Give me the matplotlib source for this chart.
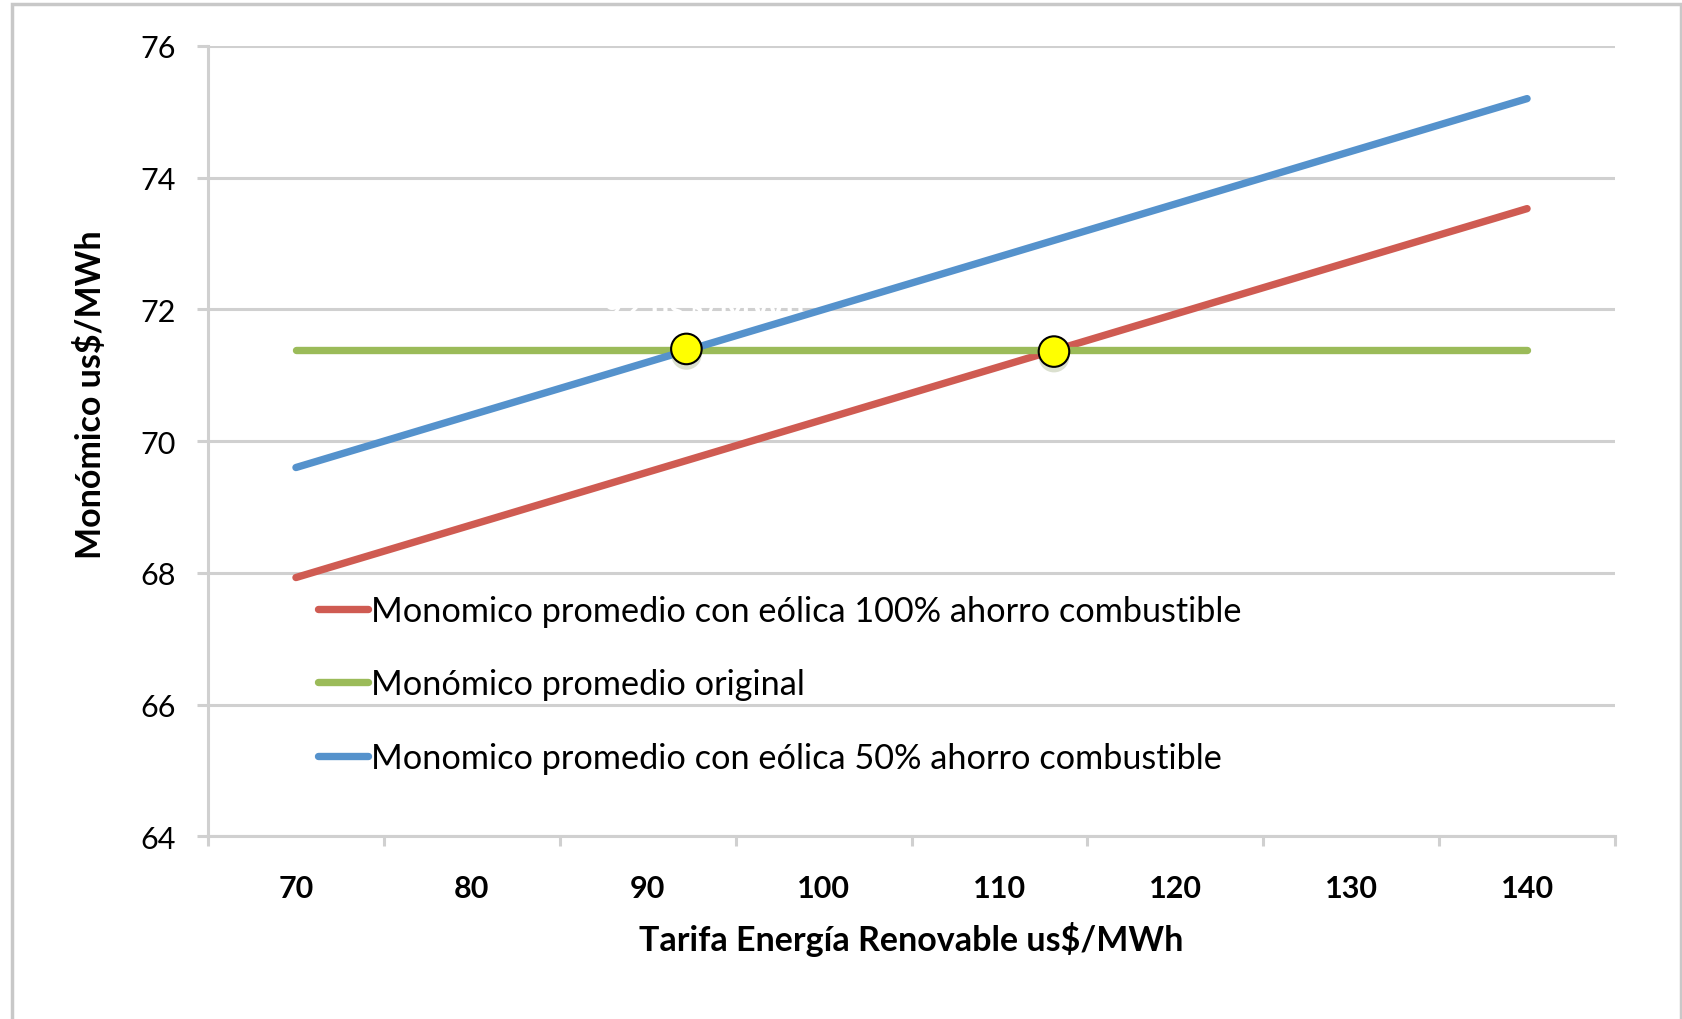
import matplotlib
matplotlib.use("Agg")
import matplotlib.pyplot as plt
import matplotlib.patheffects as pe
from matplotlib.patches import Rectangle

plt.rcParams['font.family'] = ['Lato', 'DejaVu Sans']

# Datos
tarifa = [70, 80, 90, 100, 110, 120, 130, 140]
mono_100 = [67.93, 68.73, 69.53, 70.33, 71.13, 71.93, 72.73, 73.53]
mono_original = [71.38, 71.38, 71.38, 71.38, 71.38, 71.38, 71.38, 71.38]
mono_50 = [69.60, 70.40, 71.20, 72.00, 72.80, 73.60, 74.40, 75.20]
cruces_x = [92.2, 113.1]
cruces_y = [71.40, 71.36]

rojo = "#cf5b52"
verde = "#9bbb59"
azul = "#5592cc"
gris = "#d0d0d0"

fig = plt.figure(figsize=(16.83, 10.2), dpi=100)
ax = fig.add_axes([0.1236, 0.179, 0.836, 0.775])

ax.plot(tarifa, mono_100, color=rojo, lw=5.3, solid_capstyle="round",
        label="Monomico promedio con eólica 100% ahorro combustible", zorder=3)
ax.plot(tarifa, mono_original, color=verde, lw=5.3, solid_capstyle="round",
        label="Monómico promedio original", zorder=3)
ax.plot(tarifa, mono_50, color=azul, lw=5.3, solid_capstyle="round",
        label="Monomico promedio con eólica 50% ahorro combustible", zorder=3)

ax.plot(cruces_x, cruces_y, linestyle="none", marker="o", markersize=22,
        markerfacecolor="#ffff00", markeredgecolor="black", markeredgewidth=1.5,
        zorder=5,
        path_effects=[pe.SimplePatchShadow(offset=(0, -4), shadow_rgbFace="#9aa878", alpha=0.35),
                      pe.Normal()])

# texto blanco oculto sobre la grilla
ax.text(93.2, 72.02, "92 us$/MWh", color="white", fontsize=24, fontweight="bold",
        ha="center", va="center", zorder=2)

ax.set_xlim(65, 145)
ax.set_ylim(64, 76)
ax.set_yticks(range(64, 77, 2))
ax.set_xticks(range(65, 146, 10))
ax.set_xticklabels([])
ax.set_xticks(tarifa, minor=True)
ax.set_xticklabels([str(t) for t in tarifa], minor=True, fontweight="bold")

ax.grid(axis="y", color=gris, lw=2.2, zorder=1)
ax.set_axisbelow(True)
for s in ["top", "right"]:
    ax.spines[s].set_visible(False)
for s in ["left", "bottom"]:
    ax.spines[s].set_color(gris)
    ax.spines[s].set_linewidth(2.2)

ax.tick_params(axis="x", which="major", length=7, width=2.2, color=gris)
ax.tick_params(axis="x", which="minor", length=0, pad=27, labelsize=22)
ax.tick_params(axis="y", length=8, width=2.2, color=gris, pad=15, labelsize=22)

ax.set_xlabel("Tarifa Energía Renovable us$/MWh", fontsize=24.5, fontweight="bold")
ax.xaxis.set_label_coords(0.5, -0.107)
ax.set_ylabel("Monómico us$/MWh", fontsize=24.5, fontweight="bold")
ax.yaxis.set_label_coords(-0.072, 0.56)

ax.legend(loc="upper left", bbox_to_anchor=(0.078, 0.305), frameon=False,
          fontsize=24.7, handlelength=1.45, handletextpad=0.1, labelspacing=1.2,
          borderpad=0, borderaxespad=0)

fig.patches.append(Rectangle((12 / 1683, -0.02), 1669 / 1683, 1 - 5 / 1020 + 0.02,
                             transform=fig.transFigure, fill=False,
                             edgecolor="#c8c8c8", lw=2.5))

fig.savefig("out.png", dpi=100)
